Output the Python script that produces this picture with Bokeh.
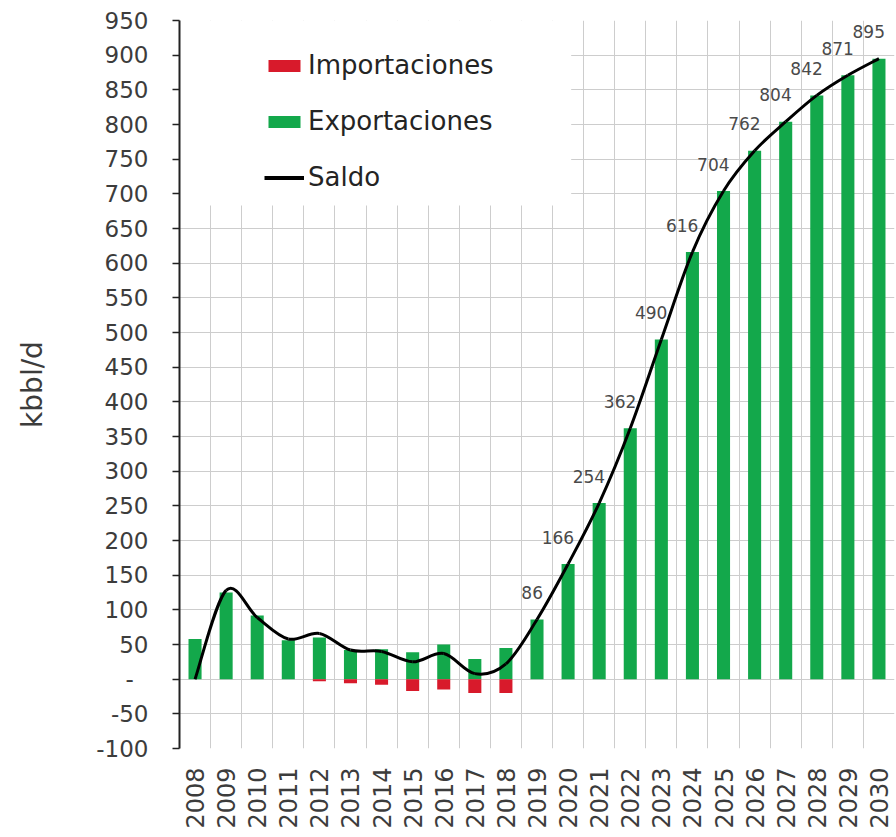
import math
from bokeh.plotting import figure
from bokeh.models import (Range1d, FixedTicker, BoxAnnotation, Legend, LegendItem)
from bokeh.embed import file_html
from bokeh.resources import INLINE
from bokeh.core.properties import value

# ---------------- data ----------------
years = list(range(2008, 2031))
exportaciones = [58, 125, 92, 56, 60, 42, 43, 39, 50, 29, 45,
                 86, 166, 254, 362, 490, 616, 704, 762, 804, 842, 871, 895]
importaciones = [0, 0, 0, 0, -3, -6, -8, -17, -15, -20, -20,
                 0, 0, 0, 0, 0, 0, 0, 0, 0, 0, 0, 0]
saldo = [0, 128, 89, 58, 66, 42, 40, 25, 37, 8, 22,
         86, 166, 254, 362, 490, 616, 704, 762, 804, 842, 871, 895]
label_years = years[11:]
label_values = saldo[11:]
y_ticks = list(range(-100, 951, 50))

FONT = "DejaVu Sans"
GREEN = "#13a84b"
RED = "#d81a2b"
GRID = "#cdcdcd"
TEXT = "#3c3c3c"

p = figure(width=896, height=836, output_backend="svg", toolbar_location=None,
           x_range=Range1d(years[0] - 0.5, years[-1] + 0.5),
           y_range=Range1d(y_ticks[0], y_ticks[-1]),
           min_border_left=179, min_border_right=2, min_border_top=20,
           min_border_bottom=88)
p.outline_line_color = None
p.background_fill_color = "white"

# white area behind the legend (hides grid there)
box = BoxAnnotation(left=years[0] - 0.5, right=2020.1, top=y_ticks[-1], bottom=683,
                    fill_color="white", fill_alpha=1.0, line_color=None,
                    level="underlay")
p.add_layout(box)

# ---------------- glyphs ----------------
r_exp = p.vbar(x=years, top=exportaciones, bottom=0, width=0.42,
               fill_color=GREEN, line_color=None)
r_imp = p.vbar(x=years, top=0, bottom=importaciones, width=0.42,
               fill_color=RED, line_color=None)

# smooth saldo line (Catmull-Rom through the data points, drawn as beziers)
n = len(years)
x0, y0, x1, y1, cx0, cy0, cx1, cy1 = [], [], [], [], [], [], [], []
for i in range(n - 1):
    pxm = years[i - 1] if i > 0 else years[i]
    pym = saldo[i - 1] if i > 0 else saldo[i]
    pxp = years[i + 2] if i + 2 < n else years[i + 1]
    pyp = saldo[i + 2] if i + 2 < n else saldo[i + 1]
    x0.append(years[i]); y0.append(saldo[i])
    x1.append(years[i + 1]); y1.append(saldo[i + 1])
    cx0.append(years[i] + (years[i + 1] - pxm) / 6.0)
    cy0.append(saldo[i] + (saldo[i + 1] - pym) / 6.0)
    cx1.append(years[i + 1] - (pxp - years[i]) / 6.0)
    cy1.append(saldo[i + 1] - (pyp - saldo[i]) / 6.0)
p.bezier(x0=x0, y0=y0, x1=x1, y1=y1, cx0=cx0, cy0=cy0, cx1=cx1, cy1=cy1,
         line_color="black", line_width=3)

p.text(x=label_years, y=label_values, text=[str(v) for v in label_values],
       text_align="right", text_baseline="middle", x_offset=6, y_offset=-27,
       text_font=value(FONT), text_font_size="17px", text_color="#4a4a4a")

# ---------------- legend ----------------
r_sal_leg = p.line(x=[years[0]], y=[saldo[0]], line_color="black", line_width=4)
legend = Legend(items=[LegendItem(label="Importaciones", renderers=[r_imp]),
                       LegendItem(label="Exportaciones", renderers=[r_exp]),
                       LegendItem(label="Saldo", renderers=[r_sal_leg])],
                location=(85, 556), orientation="vertical",
                glyph_width=40, glyph_height=15, label_height=22,
                spacing=26, padding=0, margin=0, label_standoff=4,
                label_text_font=FONT, label_text_font_size="26px",
                label_text_color="#242424", background_fill_alpha=0,
                border_line_color=None)
p.add_layout(legend)

# ---------------- axes & grid ----------------
p.xaxis.ticker = FixedTicker(ticks=years)
p.xaxis.major_label_orientation = math.pi / 2
p.xaxis.axis_line_color = None
p.xaxis.major_tick_line_color = None
p.xaxis.minor_tick_line_color = None
p.xaxis.major_label_standoff = 13
p.xaxis.major_label_text_font = FONT
p.xaxis.major_label_text_font_size = "24px"
p.xaxis.major_label_text_color = TEXT

p.yaxis.ticker = FixedTicker(ticks=y_ticks)
p.yaxis.major_label_overrides = {t: ("-\u2007" if t == 0 else str(t)) for t in y_ticks if t <= 0}
p.yaxis.axis_line_color = "#222222"
p.yaxis.axis_line_width = 2
p.yaxis.major_tick_line_color = "#222222"
p.yaxis.major_tick_line_width = 1.5
p.yaxis.major_tick_in = 0
p.yaxis.major_tick_out = 7
p.yaxis.minor_tick_line_color = None
p.yaxis.major_label_standoff = 24
p.yaxis.major_label_text_font = FONT
p.yaxis.major_label_text_font_size = "23px"
p.yaxis.major_label_text_color = TEXT
p.yaxis.axis_label = "kbbl/d"
p.yaxis.axis_label_text_font = FONT
p.yaxis.axis_label_text_font_size = "28px"
p.yaxis.axis_label_text_font_style = "normal"
p.yaxis.axis_label_text_color = TEXT
p.yaxis.axis_label_standoff = 44

p.xgrid.ticker = FixedTicker(ticks=[y - 0.5 for y in years] + [years[-1] + 0.5])
p.xgrid.grid_line_color = GRID
p.xgrid.grid_line_width = 1
p.ygrid.ticker = FixedTicker(ticks=y_ticks)
p.ygrid.grid_line_color = GRID
p.ygrid.grid_line_width = 1

open("out.html", "w").write(file_html(p, INLINE))
